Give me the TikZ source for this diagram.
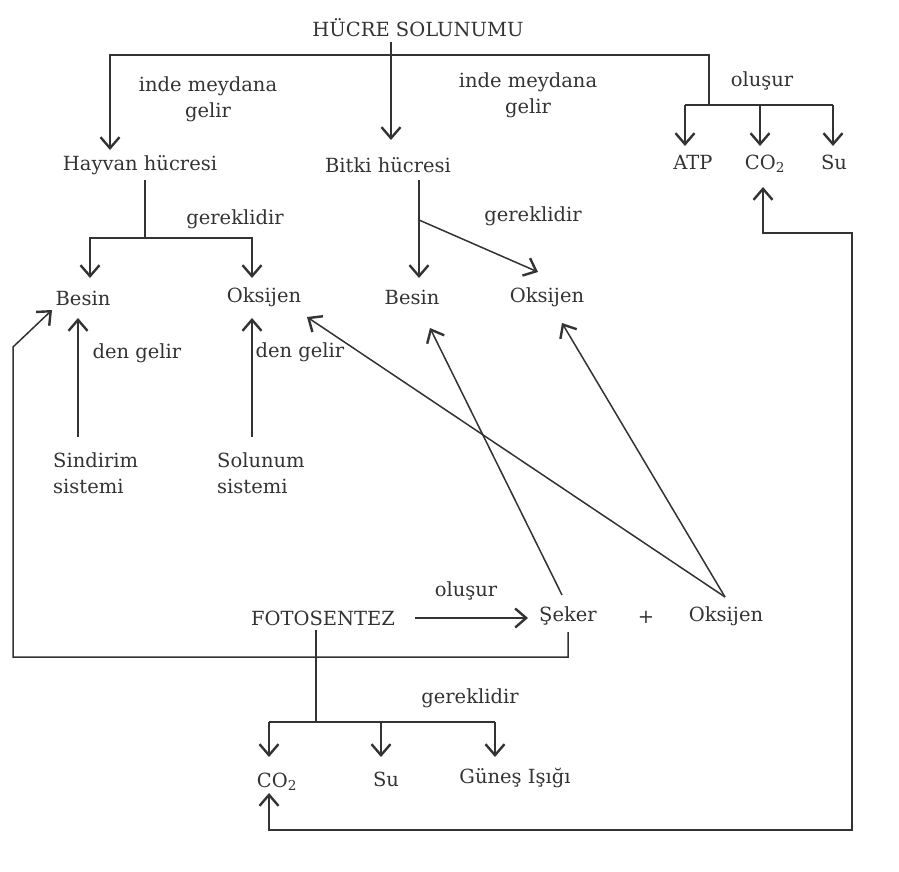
\documentclass[tikz,border=0pt]{standalone}
\usepackage{fontspec}
\setmainfont{DejaVu Serif}
\usetikzlibrary{arrows.meta}
\definecolor{ink}{HTML}{333333}
\tikzset{
  lbl/.style={font=\fontsize{19.5}{26}\selectfont, text=ink, inner sep=0pt},
  ln/.style={draw=ink, line width=1.5pt},
  tip/.tip={Straight Barb[length=11pt,width=19pt,line width=2.4pt]},
  arr/.style={ln, -tip},
  barr/.style={ln, tip-tip},
}
\newcommand{\cotwo}{CO\textsubscript{2}}
\begin{document}
\begin{tikzpicture}[x=1pt,y=-1pt]
\useasboundingbox (0,0) rectangle (899,872);
% text nodes
\node[lbl] (hs) at (418,28) {HÜCRE SOLUNUMU};
\node[lbl,align=center] (im1) at (208,99) {inde meydana\\gelir};
\node[lbl,align=center] (im2) at (528,95) {inde meydana\\gelir};
\node[lbl] (olu1) at (762,81) {oluşur};
\node[lbl] (hay) at (140,165) {Hayvan hücresi};
\node[lbl] (bit) at (388,165) {Bitki hücresi};
\node[lbl] (atp) at (693,162) {ATP};
\node[lbl] (co2a) at (765,164) {\cotwo};
\node[lbl] (su1) at (834,162) {Su};
\node[lbl] (ger1) at (235,219) {gereklidir};
\node[lbl] (ger2) at (533,216) {gereklidir};
\node[lbl] (bes1) at (83,298) {Besin};
\node[lbl] (oks1) at (264,297) {Oksijen};
\node[lbl] (bes2) at (412,297) {Besin};
\node[lbl] (oks2) at (547,297) {Oksijen};
\node[lbl] (den1) at (137,353) {den gelir};
\node[lbl] (den2) at (300,352) {den gelir};
\node[lbl,align=left,anchor=west] (sin) at (53,473) {Sindirim\\sistemi};
\node[lbl,align=left,anchor=west] (sol) at (217,473) {Solunum\\sistemi};
\node[lbl] (fot) at (323,618) {FOTOSENTEZ};
\node[lbl] (olu2) at (466,591) {oluşur};
\node[lbl] (sek) at (568,616) {Şeker};
\node[lbl] (plus) at (646,617) {+};
\node[lbl] (oks3) at (726,616) {Oksijen};
\node[lbl] (ger3) at (470,698) {gereklidir};
\node[lbl] (co2b) at (277,782) {\cotwo};
\node[lbl] (su2) at (386,779) {Su};
\node[lbl] (gun) at (515,778) {Güneş Işığı};
% junction coordinates
\coordinate (a0) at (391,42);   \coordinate (a1) at (391,140);
\coordinate (b0) at (709,105);  \coordinate (b1) at (709,55);
\coordinate (b2) at (110,55);   \coordinate (b3) at (110,150);
\coordinate (cL) at (685,105);  \coordinate (cR) at (833,105);
\coordinate (tATP) at (685,146); \coordinate (tCO) at (760,146); \coordinate (tSu) at (833,146);
\coordinate (h0) at (145,180);  \coordinate (h1) at (145,238);
\coordinate (tB1) at (90,278);  \coordinate (tO1) at (252,278);
\coordinate (k0) at (419,180);  \coordinate (k1) at (419,220);
\coordinate (tB2) at (419,278); \coordinate (tO2) at (538,272);
\coordinate (s0) at (78,437);   \coordinate (s1) at (78,318);
\coordinate (r0) at (252,437);  \coordinate (r1) at (252,318);
\coordinate (e0) at (568,632);  \coordinate (e1) at (568,657);
\coordinate (e2) at (13,657);   \coordinate (e3) at (13,347);
\coordinate (e4) at (52,310);
\coordinate (f0) at (415,618);  \coordinate (f1) at (528,618);
\coordinate (g0) at (316,630);  \coordinate (g1) at (316,722);
\coordinate (gL) at (269,722);  \coordinate (gR) at (495,722);
\coordinate (gM) at (381,722);
\coordinate (tC) at (269,757);  \coordinate (tS) at (381,757); \coordinate (tG) at (495,757);
\coordinate (m0) at (269,793);  \coordinate (m1) at (269,830);
\coordinate (m2) at (852,830);  \coordinate (m3) at (852,233);
\coordinate (m4) at (763,233);  \coordinate (m5) at (763,187);
\coordinate (d0) at (562,595);  \coordinate (d1) at (430,328);
\coordinate (x0) at (725,597);  \coordinate (x1) at (307,317);
\coordinate (x2) at (562,323);
% connectors
\draw[arr] (a0) -- (a1);
\draw[arr] (b0) -- (b1) -- (b2) -- (b3);
\draw[ln] (cL) -- (cR);
\draw[arr] (cL) -- (tATP);
\draw[arr] (tCO |- cL) -- (tCO);
\draw[arr] (cR) -- (tSu);
\draw[ln] (h0) -- (h1);
\draw[arr] (h1) -| (tB1);
\draw[arr] (h1) -| (tO1);
\draw[arr] (k0) -- (tB2);
\draw[arr] (k1) -- (tO2);
\draw[arr] (s0) -- (s1);
\draw[arr] (r0) -- (r1);
\draw[arr] (e0) -- (e1) -- (e2) -- (e3) -- (e4);
\draw[arr] (f0) -- (f1);
\draw[ln] (g0) -- (g1);
\draw[ln] (gL) -- (gR);
\draw[arr] (gL) -- (tC);
\draw[arr] (gM) -- (tS);
\draw[arr] (gR) -- (tG);
\draw[barr] (m0) -- (m1) -- (m2) -- (m3) -- (m4) -- (m5);
\draw[arr] (d0) -- (d1);
\draw[arr] (x0) -- (x1);
\draw[arr] (x0) -- (x2);
\end{tikzpicture}
\end{document}
